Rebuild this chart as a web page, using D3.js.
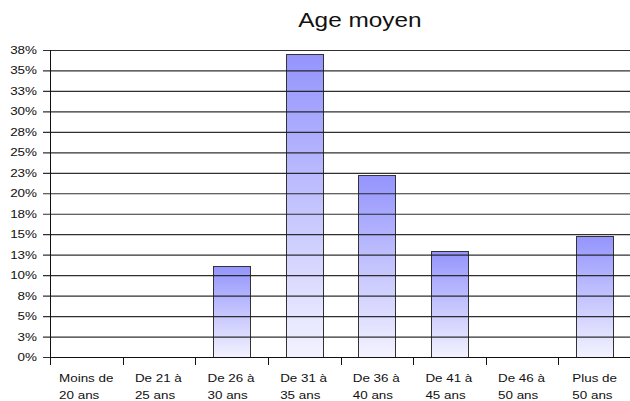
<!DOCTYPE html>
<html>
<head>
<meta charset="utf-8">
<script src="https://cdnjs.cloudflare.com/ajax/libs/d3/7.8.5/d3.min.js"></script>
<style>
  body { margin: 0; background: #fff; }
  text { font-family: "Liberation Sans", Arial, sans-serif; fill: #111; }
</style>
</head>
<body>
<script>
// chart data
var categories = [
  ["Moins de", "20 ans"],
  ["De 21 à", "25 ans"],
  ["De 26 à", "30 ans"],
  ["De 31 à", "35 ans"],
  ["De 36 à", "40 ans"],
  ["De 41 à", "45 ans"],
  ["De 46 à", "50 ans"],
  ["Plus de", "50 ans"]
];
var values = [0, 0, 11.1, 37.0, 22.2, 13.0, 0, 14.8];
var yTicks = [0, 2.5, 5, 7.5, 10, 12.5, 15, 17.5, 20, 22.5, 25, 27.5, 30, 32.5, 35, 37.5];
var yTickLabels = ["0%", "3%", "5%", "8%", "10%", "13%", "15%", "18%", "20%", "23%", "25%", "28%", "30%", "33%", "35%", "38%"];
var title = "Age moyen";

var width = 630, height = 401;
// the picture is a little stretched sideways, so text gets widened too
var stretch = 1.22;

var margin = {top: 50, left: 50, bottom: 357};

var svg = d3.select('body').append('svg')
  .attr('width', width)
  .attr('height', height);

var x = d3.scaleBand()
  .domain(d3.range(categories.length))
  .range([margin.left, 631])
  .paddingInner(0.49)
  .paddingOuter(0.245);

var y = d3.scaleLinear()
  .domain([0, 37.5])
  .range([margin.bottom, margin.top]);

// gradient for the bars
var grad = svg.append('defs').append('linearGradient')
  .attr('id', 'barGrad')
  .attr('x1', 0).attr('y1', 0).attr('x2', 0).attr('y2', 1);
grad.append('stop').attr('offset', '0%').attr('stop-color', '#9494fd');
grad.append('stop').attr('offset', '100%').attr('stop-color', '#f3f3ff');

// title
svg.append('text')
  .attr('transform', 'translate(360,27) scale(' + stretch + ',1)')
  .attr('text-anchor', 'middle')
  .style('font-size', '20px')
  .text(title);

// bars (empty categories get no bar)
var barData = values.map(function(v, i) { return {i: i, v: v}; })
  .filter(function(d) { return d.v > 0; });

svg.append('g').selectAll('rect')
  .data(barData)
  .enter().append('rect')
  .attr('x', function(d) { return Math.round(x(d.i)) + 0.5; })
  .attr('y', function(d) { return Math.round(y(d.v)) + 0.5; })
  .attr('width', Math.round(x.bandwidth()))
  .attr('height', function(d) { return Math.round(y(0)) - Math.round(y(d.v)); })
  .attr('fill', 'url(#barGrad)')
  .attr('stroke', '#333')
  .attr('stroke-width', 1);

// y axis with gridlines drawn over the bars
var yAxis = d3.axisLeft(y)
  .tickValues(yTicks)
  .tickSize(-(width - margin.left))
  .tickPadding(13)
  .tickFormat(function(d, i) { return yTickLabels[i]; });

var gy = svg.append('g')
  .attr('transform', 'translate(' + margin.left + ',0)')
  .call(yAxis);
gy.select('.domain').remove();
gy.selectAll('.tick line')
  .attr('x1', -7)
  .attr('stroke', '#1a1a1a')
  .attr('stroke-width', 1.2)
  .attr('stroke-opacity', 0.9);
gy.selectAll('.tick text')
  .attr('x', null)
  .attr('transform', 'translate(-13,0) scale(' + stretch + ',1)')
  .attr('text-anchor', 'end')
  .style('font-family', '"Liberation Sans", Arial, sans-serif')
  .style('font-size', '11px')
  .attr('fill', '#111');

// vertical axis line
svg.append('line')
  .attr('x1', margin.left + 0.5).attr('x2', margin.left + 0.5)
  .attr('y1', margin.top).attr('y2', margin.bottom + 8)
  .attr('stroke', '#111');

// x axis: ticks sit at the band edges
var edges = d3.range(categories.length).map(function(i) { return x(i) - x.step() * x.paddingInner() / 2; });
var gx = svg.append('g');
gx.append('line')
  .attr('x1', margin.left).attr('x2', width)
  .attr('y1', Math.round(y(0)) + 0.5).attr('y2', Math.round(y(0)) + 0.5)
  .attr('stroke', '#111');
gx.selectAll('.edge')
  .data(edges)
  .enter().append('line')
  .attr('x1', function(d) { return Math.round(d) + 0.5; })
  .attr('x2', function(d) { return Math.round(d) + 0.5; })
  .attr('y1', Math.round(y(0)))
  .attr('y2', Math.round(y(0)) + 8)
  .attr('stroke', '#111');

// category labels, two lines left aligned, block centred on the band
var labels = gx.selectAll('.lab')
  .data(categories)
  .enter().append('g')
  .attr('class', 'lab');

labels.each(function(d, i) {
  var g = d3.select(this);
  var t = g.append('text')
    .style('font-size', '11px');
  t.selectAll('tspan')
    .data(d)
    .enter().append('tspan')
    .attr('x', 0)
    .attr('dy', function(s, j) { return j ? 17 : 0; })
    .text(function(s) { return s; });
  var w = t.node().getBBox().width * stretch;
  var cx = x(i) + x.bandwidth() / 2;
  t.attr('transform', 'translate(' + (cx - w / 2) + ',382) scale(' + stretch + ',1)');
});
</script>
</body>
</html>
